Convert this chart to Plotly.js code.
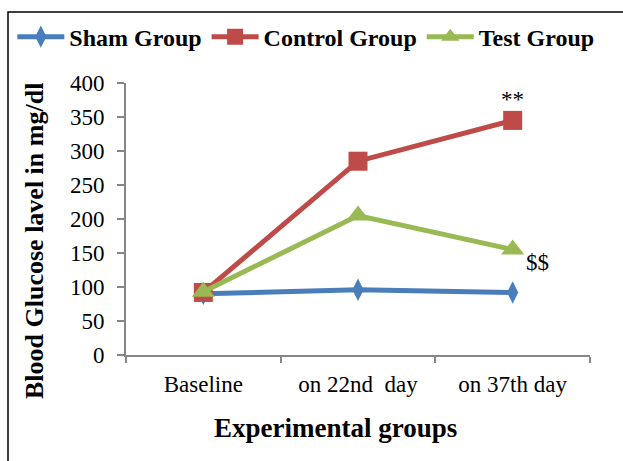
<!DOCTYPE html>
<html>
<head>
<meta charset="utf-8">
<script src="https://cdn.plot.ly/plotly-3.0.1.min.js"></script>
<style>html,body{margin:0;padding:0;background:#fff;}#chart{width:623px;height:461px;}</style>
</head>
<body>
<div id="chart"></div>
<script>
const categories = ["Baseline", "on 22nd  day", "on 37th day"];
const shamValues = [90, 96, 92];
const controlValues = [92, 285, 345];
const testValues = [93, 205, 155];
const seriesNames = ["Sham Group", "Control Group", "Test Group"];
const yTicks = [0, 50, 100, 150, 200, 250, 300, 350, 400];

const FONT = '"Liberation Serif", "Times New Roman", serif';
const axisGray = '#868686';

const traces = [
  {x: categories, y: shamValues, name: seriesNames[0], type: 'scatter', mode: 'lines+markers',
   line: {color: '#4A7EBB', width: 5}, marker: {symbol: 'diamond-tall', size: 16, color: '#4A7EBB'}},
  {x: categories, y: controlValues, name: seriesNames[1], type: 'scatter', mode: 'lines+markers',
   line: {color: '#BE4B48', width: 5}, marker: {symbol: 'square', size: 19, color: '#BE4B48'}},
  {x: categories, y: testValues, name: seriesNames[2], type: 'scatter', mode: 'lines+markers',
   line: {color: '#98B954', width: 5}, marker: {symbol: 'triangle-up', size: 20, color: '#98B954'}}
];

const layout = {
  width: 623, height: 461,
  margin: {l: 126, r: 33, t: 83, b: 106, autoexpand: false},
  paper_bgcolor: '#fff', plot_bgcolor: '#fff',
  font: {family: FONT, color: '#000', size: 23},
  showlegend: true,
  legend: {orientation: 'h', x: -0.245, xanchor: 'left', y: 1.169, yanchor: 'middle',
           font: {family: FONT, size: 24, weight: 'bold', color: '#000'},
           itemwidth: 47, tracegroupgap: 0, bgcolor: 'rgba(0,0,0,0)'},
  xaxis: {type: 'category', range: [-0.5, 2.5], autorange: false, showgrid: false, zeroline: false, showline: true, linecolor: axisGray, linewidth: 2,
          ticks: 'outside', tickson: 'boundaries', ticklen: 6, tickcolor: axisGray, tickwidth: 2, ticklabelstandoff: 7,
          tickfont: {family: FONT, size: 23, color: '#000'}, fixedrange: true},
  yaxis: {range: [0, 400], autorange: false, tickvals: yTicks, showgrid: false, zeroline: false, showline: true, linecolor: axisGray, linewidth: 2,
          ticks: 'outside', ticklen: 7, tickcolor: axisGray, tickwidth: 2, ticklabelstandoff: 8,
          tickfont: {family: FONT, size: 23, color: '#000'}, fixedrange: true},
  annotations: [
    {xref: 'paper', yref: 'paper', x: (335 - 126) / 464, y: (355 - 428) / 272, text: 'Experimental groups',
     showarrow: false, font: {family: FONT, size: 27, weight: 'bold', color: '#000'}, xanchor: 'center', yanchor: 'middle'},
    {xref: 'paper', yref: 'paper', x: (35 - 126) / 464, y: (355 - 241) / 272, text: 'Blood Glucose lavel in mg/dl',
     textangle: -90, showarrow: false, font: {family: FONT, size: 26, weight: 'bold', color: '#000'}, xanchor: 'center', yanchor: 'middle'},
    {xref: 'x', yref: 'y', x: categories[2], y: controlValues[2], yshift: 21, text: '**', showarrow: false,
     font: {family: FONT, size: 23, color: '#000'}},
    {xref: 'x', yref: 'y', x: categories[2], y: testValues[2], xshift: 25, yshift: -13, text: '$$', showarrow: false,
     font: {family: FONT, size: 23, color: '#000'}}
  ],
  shapes: [
    {type: 'rect', xref: 'paper', yref: 'paper', x0: (8 - 126) / 464, x1: 1.3, y0: -0.6, y1: (355 - 12) / 272,
     line: {color: '#000', width: 1.5}, fillcolor: 'rgba(0,0,0,0)', layer: 'below'}
  ]
};

Plotly.newPlot('chart', traces, layout, {displayModeBar: false, staticPlot: true});
</script>
</body>
</html>
